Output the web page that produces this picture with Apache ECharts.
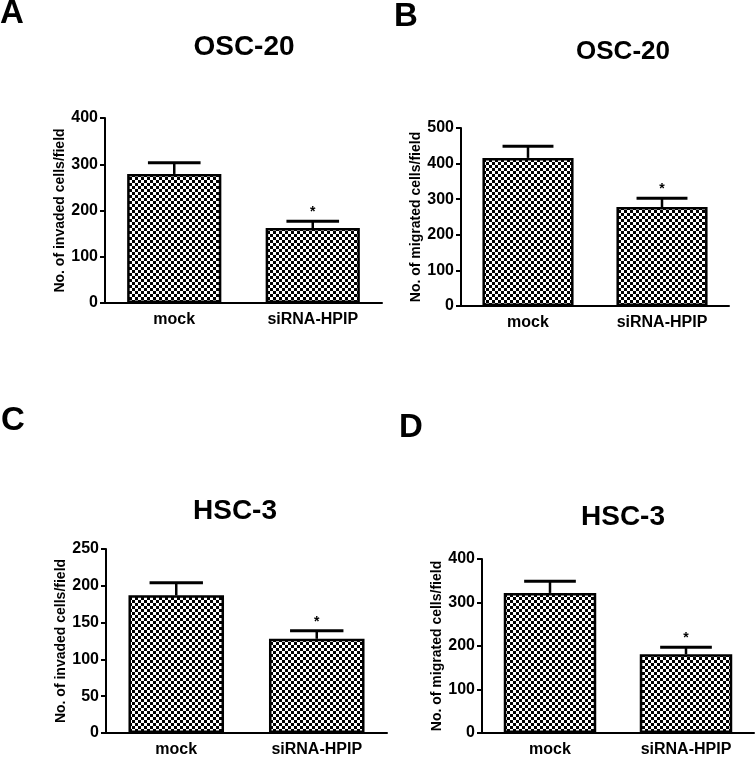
<!DOCTYPE html>
<html>
<head>
<meta charset="utf-8">
<script src="https://cdn.jsdelivr.net/npm/echarts@6/dist/echarts.min.js"></script>
<style>
html,body{margin:0;padding:0;background:#fff;}
#chart{width:755px;height:758px;}
</style>
</head>
<body>
<div id="chart"></div>
<script>
// ---- data ----
const categories = ['mock', 'siRNA-HPIP'];
const panelTitles = ['OSC-20', 'OSC-20', 'HSC-3', 'HSC-3'];
const panelLetters = ['A', 'B', 'C', 'D'];
const yNames = ['No. of invaded cells/field', 'No. of migrated cells/field', 'No. of invaded cells/field', 'No. of migrated cells/field'];
const meansA = [279, 162];
const errorsA = [24, 15];
const meansB = [416, 278];
const errorsB = [33, 25];
const meansC = [187, 128];
const errorsC = [17, 11];
const meansD = [322, 181];
const errorsD = [27, 16];
const significant = [false, true];
const yMax = [400, 500, 250, 400];
const yInterval = [100, 100, 50, 100];

const means = [meansA, meansB, meansC, meansD];
const errors = [errorsA, errorsB, errorsC, errorsD];

// ---- layout ----
const grids = [
  {left: 105, top: 118, width: 277, height: 185},
  {left: 461, top: 128, width: 268, height: 178},
  {left: 106, top: 549, width: 281, height: 187},
  {left: 482, top: 559, width: 272, height: 179}
];
const titlePos = [[244, 47, 28], [623, 52, 26], [235, 511, 28], [623, 517, 28]];
const letterPos = [[12, 14], [406, 17], [13, 421], [411, 428]];
const FONT = '"Liberation Sans", Arial, Helvetica, sans-serif';

// checkerboard pattern
const pc = document.createElement('canvas');
pc.width = 6; pc.height = 6;
const pctx = pc.getContext('2d');
pctx.fillStyle = '#fff'; pctx.fillRect(0, 0, 6, 6);
pctx.fillStyle = '#000'; pctx.fillRect(0, 0, 3, 3); pctx.fillRect(3, 3, 3, 3);

const chart = echarts.init(document.getElementById('chart'), null, {renderer: 'canvas'});

const xAxes = [], yAxes = [], series = [], graphics = [];
for (let i = 0; i < 4; i++) {
  xAxes.push({
    type: 'category', gridIndex: i, data: categories,
    axisLine: {lineStyle: {color: '#000', width: 2}},
    axisTick: {alignWithLabel: true, length: 5, lineStyle: {color: '#000', width: 2}},
    axisLabel: {color: '#000', fontWeight: 'bold', fontSize: 16, fontFamily: FONT, margin: 9}
  });
  yAxes.push({
    type: 'value', gridIndex: i, min: 0, max: yMax[i], interval: yInterval[i],
    name: yNames[i], nameLocation: 'middle', nameGap: 38, nameRotate: 90,
    nameTextStyle: {color: '#000', fontWeight: 'bold', fontSize: 14, fontFamily: FONT},
    axisLine: {show: true, lineStyle: {color: '#000', width: 2}},
    axisTick: {show: true, length: 5, lineStyle: {color: '#000', width: 2}},
    axisLabel: {color: '#000', fontWeight: 'bold', fontSize: 16, fontFamily: FONT, margin: 7},
    splitLine: {show: false}
  });
  series.push({
    type: 'bar', xAxisIndex: i, yAxisIndex: i, barWidth: '68%',
    data: means[i],
    itemStyle: {color: {image: pc, repeat: 'repeat'}, borderColor: '#000', borderWidth: 2.5},
    silent: true, animation: false
  });
  const errData = means[i].map((m, k) => [k, m, errors[i][k], significant[k] ? 1 : 0]);
  series.push({
    type: 'custom', xAxisIndex: i, yAxisIndex: i, z: 5, animation: false, silent: true,
    data: errData,
    renderItem: function (params, api) {
      const x = api.value(0), m = api.value(1), e = api.value(2), star = api.value(3);
      const p0 = api.coord([x, m]);
      const p1 = api.coord([x, m + e]);
      const band = api.size([1, 0])[0];
      const hw = band * 0.19;
      const children = [
        {type: 'line', shape: {x1: p0[0], y1: p0[1], x2: p1[0], y2: p1[1]}, style: {stroke: '#000', lineWidth: 2.5}},
        {type: 'line', shape: {x1: p1[0] - hw, y1: p1[1], x2: p1[0] + hw, y2: p1[1]}, style: {stroke: '#000', lineWidth: 3}}
      ];
      if (star) {
        children.push({type: 'text', style: {text: '*', x: p1[0], y: p1[1] - 2, textAlign: 'center', textVerticalAlign: 'bottom',
          fill: '#000', font: 'bold 14px ' + FONT}});
      }
      return {type: 'group', children: children};
    }
  });
  graphics.push({type: 'text', style: {text: panelTitles[i], x: titlePos[i][0], y: titlePos[i][1], textAlign: 'center', textVerticalAlign: 'middle',
    fill: '#000', font: 'bold ' + titlePos[i][2] + 'px ' + FONT}});
  graphics.push({type: 'text', style: {text: panelLetters[i], x: letterPos[i][0], y: letterPos[i][1], textAlign: 'center', textVerticalAlign: 'middle',
    fill: '#000', font: 'bold 33px ' + FONT}});
}

chart.setOption({
  animation: false,
  backgroundColor: '#fff',
  grid: grids,
  xAxis: xAxes,
  yAxis: yAxes,
  series: series,
  graphic: graphics
});
</script>
</body>
</html>
